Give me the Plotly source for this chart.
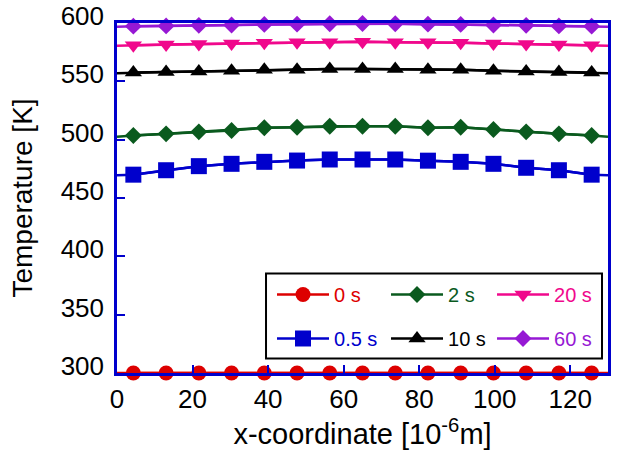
import plotly.graph_objects as go

# x positions of the plotted nodes [10^-6 m]
x_nodes = [4.33, 13.0, 21.67, 30.33, 39.0, 47.67, 56.33, 65.0, 73.67, 82.33, 91.0, 99.67, 108.33, 117.0, 125.67]
x_edges = [0, 130]

# Temperatures [K] at the nodes, per time
T_0s = [300] * 15
T_05s = [470.0, 473.8, 477.3, 479.3, 481.0, 482.1, 483.0, 483.0, 483.0, 482.0, 481.0, 479.3, 475.9, 473.8, 470.0]
T_2s = [503.6, 505.0, 506.7, 507.9, 510.2, 510.7, 511.5, 511.5, 511.5, 510.2, 510.7, 508.7, 506.7, 505.0, 503.6]
T_10s = [557.5, 558.0, 558.5, 559.0, 560.0, 560.0, 560.5, 560.5, 560.5, 560.0, 560.0, 559.0, 558.5, 558.0, 557.5]
T_20s = [581.0, 581.5, 582.0, 582.5, 583.0, 583.5, 583.5, 584.0, 583.5, 583.5, 583.0, 582.5, 582.0, 581.5, 581.0]
T_60s = [597.3, 597.5, 598.0, 598.3, 598.8, 599.0, 599.3, 599.6, 599.3, 599.0, 598.8, 598.3, 598.0, 597.5, 597.3]

# Temperatures at the domain edges (x = 0 and x = 130)
E_0s = [300, 300]
E_05s = [469.5, 469.5]
E_2s = [502.5, 502.5]
E_10s = [557.0, 557.0]
E_20s = [580.5, 580.5]
E_60s = [596.8, 596.8]

x_ticks = [0, 20, 40, 60, 80, 100, 120]
y_ticks = [300, 350, 400, 450, 500, 550, 600]

series = [
    # name, nodes, edges, color, symbol, size, legend id
    ("0 s", T_0s, E_0s, "#dd0000", "circle", 15, "legend"),
    ("2 s", T_2s, E_2s, "#0a5a1e", "diamond", 13, "legend2"),
    ("20 s", T_20s, E_20s, "#f0088c", "triangle-down", 15, "legend3"),
    ("0.5 s", T_05s, E_05s, "#0000cc", "square", 16, "legend4"),
    ("10 s", T_10s, E_10s, "#000000", "triangle-up", 15, "legend5"),
    ("60 s", T_60s, E_60s, "#9618d4", "diamond", 13, "legend6"),
]

fig = go.Figure()
for name, vals, edges, color, symbol, size, leg in series:
    xs = [x_edges[0]] + x_nodes + [x_edges[1]]
    ys = [edges[0]] + vals + [edges[1]]
    fig.add_trace(go.Scatter(x=xs, y=ys, mode="lines", line=dict(color=color, width=2.5),
                             showlegend=False, hoverinfo="skip", cliponaxis=False))
for name, vals, edges, color, symbol, size, leg in series:
    fig.add_trace(go.Scatter(
        x=x_nodes, y=vals, mode="lines+markers",
        name=f'<span style="color:{color}">{name}</span>',
        line=dict(color=color, width=2.5),
        marker=dict(symbol=symbol, size=size, color=color, line=dict(width=0)),
        cliponaxis=False, legend=leg,
    ))

axis_color = "#0000cc"
font_family = "Liberation Sans, Arial, sans-serif"

col_x = [0.3157, 0.5479, 0.7638]
row_y = [0.2243, 0.0986]
legend_layout = {}
for i, key in enumerate(["legend", "legend2", "legend3", "legend4", "legend5", "legend6"]):
    legend_layout[key] = dict(
        x=col_x[i % 3], y=row_y[i // 3], xanchor="left", yanchor="middle",
        bgcolor="rgba(0,0,0,0)", borderwidth=0, itemwidth=52,
        font=dict(size=20, family=font_family),
    )

fig.update_layout(
    width=618, height=451,
    margin=dict(l=117, r=10, t=23, b=78, autoexpand=False),
    paper_bgcolor="white", plot_bgcolor="white",
    font=dict(family=font_family, color="black"),
    xaxis=dict(
        range=[0, 130], tickvals=x_ticks, ticks="inside", ticklen=8, tickwidth=2,
        tickcolor=axis_color, showline=True, linecolor=axis_color, linewidth=2.5,
        mirror=True, showgrid=False, zeroline=False,
        tickfont=dict(size=26, color="black"), ticklabelstandoff=1,
        title=dict(text="x-coordinate [10<sup>-6</sup>m]", font=dict(size=29), standoff=0),
    ),
    yaxis=dict(
        range=[300, 600], tickvals=y_ticks, ticks="inside", ticklen=8, tickwidth=2,
        tickcolor=axis_color, showline=True, linecolor=axis_color, linewidth=2.5,
        mirror=True, showgrid=False, zeroline=False,
        tickfont=dict(size=26, color="black"), ticklabelstandoff=5, ticklabelshift=-7,
        title=dict(text="Temperature [K]", font=dict(size=28), standoff=20),
    ),
    shapes=[dict(type="rect", xref="paper", yref="paper", x0=0.3035, x1=0.9878, y0=0.0414, y1=0.2843,
                 line=dict(color="black", width=2), fillcolor="white", layer="above")],
    **legend_layout,
)

fig.write_html("out.html", config={"displayModeBar": False},
               post_script="document.body.style.margin='0px';")
